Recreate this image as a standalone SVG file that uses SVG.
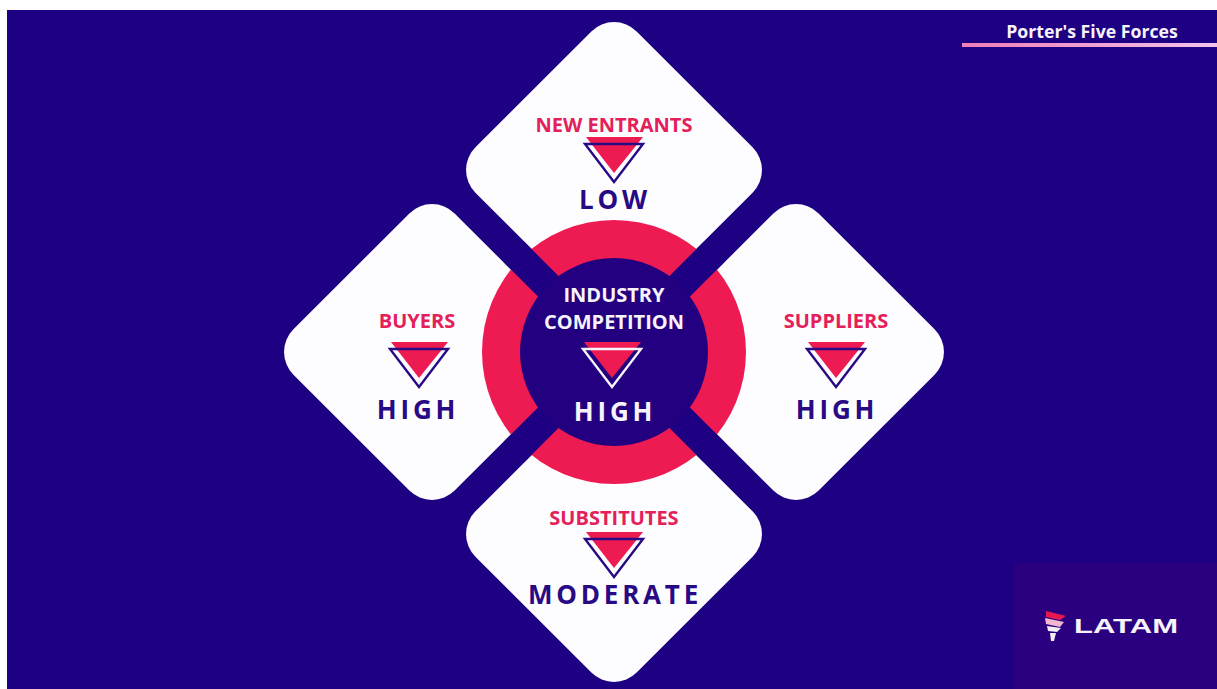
<svg xmlns="http://www.w3.org/2000/svg" width="1217" height="689" viewBox="0 0 1217 689">
<style>
text{font-family:"Open Sans","Noto Sans","Liberation Sans",sans-serif;font-weight:700;text-anchor:middle}
.d{fill:#fdfcfe}
.lab{fill:#e4205a;font-size:20px}
.val{fill:#280a85;font-size:26px;letter-spacing:3.8px}
.w{fill:#f7f3fb}
.tr{fill:#ee1a52}
.out{fill:none;stroke:#280a85;stroke-width:2.4;stroke-linejoin:miter}
</style>
<defs>
<linearGradient id="g" x1="0" x2="1" y1="0" y2="0"><stop offset="0" stop-color="#ef7db8"/><stop offset="1" stop-color="#f3c3ee"/></linearGradient>
<g id="tri"><path class="tr" d="M-28 0H29L0 36Z"/><path class="out" d="M-29 7H29L0 45Z"/></g>
</defs>
<rect width="1217" height="689" fill="#fff"/>
<rect x="7" y="10" width="1210" height="679" fill="#1e0082"/>
<g id="logo-panel">
<rect x="1014" y="563" width="203" height="126" fill="#2a0080"/>
<path d="M1046 611L1066 616L1060 620L1046 617Z" fill="#e8174f"/>
<path d="M1045 618L1064 622L1060 627L1046 624Z" fill="#f3b6d0"/>
<path d="M1047 626L1061 628L1057 632L1048 631Z" fill="#f4eef8"/>
<path d="M1050 633L1056 633L1054 641L1051 641Z" fill="#f4eef8"/>
<text id="logo-text" x="1126" y="633" style="font-size:21px;font-family:'Liberation Sans',sans-serif" fill="#f7f3fb" textLength="104" lengthAdjust="spacingAndGlyphs">LATAM</text>
</g>
<g id="title">
<text x="1092" y="38" class="w" style="font-size:17.7px">Porter's Five Forces</text>
<rect x="962" y="43" width="255" height="4" fill="url(#g)"/>
</g>
<g id="node-new-entrants">
<rect class="d" x="500" y="56" width="228" height="228" rx="32" transform="rotate(45 614 170)"/>
</g>
<g id="node-substitutes">
<rect class="d" x="500" y="420" width="228" height="228" rx="32" transform="rotate(45 614 534)"/>
</g>
<g id="node-buyers">
<rect class="d" x="318" y="238" width="228" height="228" rx="32" transform="rotate(45 432 352)"/>
</g>
<g id="node-suppliers">
<rect class="d" x="682" y="238" width="228" height="228" rx="32" transform="rotate(45 796 352)"/>
</g>
<g id="connectors">
<circle cx="614" cy="352" r="132" fill="#ee1a52"/>
<path d="M514 252L714 452M714 252L514 452" stroke="#1e0082" stroke-width="29" fill="none"/>
</g>
<g id="node-industry">
<circle cx="614" cy="352" r="94" fill="#23007f"/>
<text x="614" y="302" class="w" style="font-size:20px">INDUSTRY</text>
<text x="614" y="329" class="w" style="font-size:20px">COMPETITION</text>
<path class="tr" d="M584 342H641L612 378Z"/>
<path class="out" style="stroke:#f7f3fb" d="M583 349H641L612 387Z"/>
<text x="615" y="421" class="w" style="font-size:26px;letter-spacing:3.8px">HIGH</text>
</g>
<g id="labels-new-entrants">
<text x="614" y="132" class="lab">NEW ENTRANTS</text>
<use href="#tri" x="614" y="137"/>
<text x="615" y="209" class="val">LOW</text>
</g>
<g id="labels-buyers">
<text x="417" y="328" class="lab">BUYERS</text>
<use href="#tri" x="419" y="342"/>
<text x="418" y="419" class="val">HIGH</text>
</g>
<g id="labels-suppliers">
<text x="836" y="328" class="lab">SUPPLIERS</text>
<use href="#tri" x="836" y="342"/>
<text x="837" y="419" class="val">HIGH</text>
</g>
<g id="labels-substitutes">
<text x="614" y="525" class="lab">SUBSTITUTES</text>
<use href="#tri" x="614" y="532"/>
<text x="615" y="604" class="val">MODERATE</text>
</g>
</svg>
